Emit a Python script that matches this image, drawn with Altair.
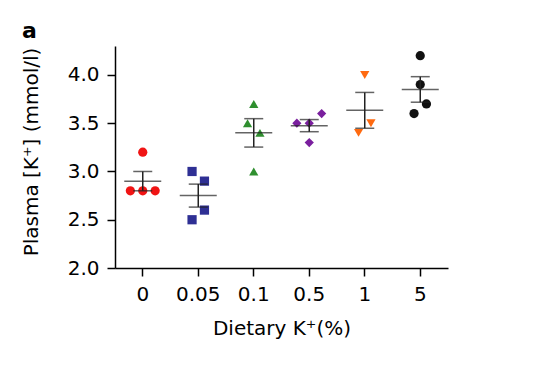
import altair as alt
import pandas as pd

groups = ["0", "0.05", "0.1", "0.5", "1", "5"]
colors = ["#f01414", "#2e2f94", "#2f8f2f", "#7a1f9e", "#ff6a10", "#111111"]
shapes = ["circle", "square", "triangle-up", "diamond", "triangle-down", "circle"]

values = {
    "0": [3.2, 2.8, 2.8, 2.8],
    "0.05": [3.0, 2.9, 2.6, 2.5],
    "0.1": [3.7, 3.5, 3.4, 3.0],
    "0.5": [3.5, 3.5, 3.6, 3.3],
    "1": [4.0, 3.5, 3.4],
    "5": [4.2, 3.9, 3.7, 3.6],
}
# horizontal spread slot of each point (scatter-dot layout)
slots = {
    "0": [0, -2, 0, 2],
    "0.05": [-1, 1, 1, -1],
    "0.1": [0, -1, 1, 0],
    "0.5": [-2, 0, 2, 0],
    "1": [0, 1, -1],
    "5": [0, 0, 1, -1],
}

rows = []
for g in groups:
    for v, s in zip(values[g], slots[g]):
        rows.append({"diet": g, "k": v, "slot": s})
df = pd.DataFrame(rows)

FONT = "DejaVu Sans"
FS = 20
STEP = 333 / len(groups)

x_enc = alt.X("diet:N", sort=groups,
              scale=alt.Scale(domain=groups, paddingInner=0, paddingOuter=0),
              axis=alt.Axis(title="Dietary K⁺(%)", labelAngle=0, labelFontSize=FS,
                            labelPadding=8, tickSize=8, titleFontSize=FS,
                            titleFontWeight="normal", titleBaseline="alphabetic",
                            titleY=66, titleAlign="center"))
y_scale = alt.Scale(domain=[2.0, 4.3], nice=False, zero=False)
y_axis = alt.Axis(title="Plasma [K⁺] (mmol/l)", values=[2.0, 2.5, 3.0, 3.5, 4.0],
                  format=".1f", labelFontSize=FS, labelPadding=8, tickSize=8,
                  titleFontSize=FS, titleFontWeight="normal",
                  titleBaseline="alphabetic", titleX=-78, titleY=105.5,
                  titleAlign="center", grid=False)

base = alt.Chart(df)

points = base.mark_point(filled=True, size=85, opacity=1).encode(
    x=x_enc,
    xOffset=alt.XOffset("slot:Q", scale=alt.Scale(domain=[-2, 2],
                                                  range=[STEP / 2 - 12.4, STEP / 2 + 12.4])),
    y=alt.Y("k:Q", scale=y_scale, axis=y_axis),
    color=alt.Color("diet:N", scale=alt.Scale(domain=groups, range=colors), legend=None),
    shape=alt.Shape("diet:N", scale=alt.Scale(domain=groups, range=shapes), legend=None),
)

stats = base.transform_aggregate(
    mean="mean(k)", se="stderr(k)", groupby=["diet"]
).transform_calculate(
    lo="datum.mean - datum.se", hi="datum.mean + datum.se"
)

ebar_color = "#222222"
mean_tick = stats.mark_tick(orient="horizontal", size=37, thickness=1.5, color=ebar_color).encode(
    x=alt.X("diet:N", sort=groups), y=alt.Y("mean:Q"))
cap_hi = stats.mark_tick(orient="horizontal", size=19, thickness=1.5, color=ebar_color).encode(
    x=alt.X("diet:N", sort=groups), y=alt.Y("hi:Q"))
cap_lo = stats.mark_tick(orient="horizontal", size=19, thickness=1.5, color=ebar_color).encode(
    x=alt.X("diet:N", sort=groups), y=alt.Y("lo:Q"))
stem = stats.mark_rule(strokeWidth=1.5, color=ebar_color).encode(
    x=alt.X("diet:N", sort=groups), y=alt.Y("lo:Q"), y2="hi:Q")

panel = alt.Chart(pd.DataFrame({"t": ["a"]})).mark_text(
    font="DejaVu Sans", fontSize=22, fontWeight="bold", align="left",
    baseline="alphabetic", color="#000"
).encode(x=alt.value(-93), y=alt.value(-8.5), text="t:N")

chart = alt.layer(points, stem, cap_hi, cap_lo, mean_tick, panel).properties(
    width=333, height=222,
    autosize=alt.AutoSizeParams(type="none"),
    padding={"left": 107, "top": 38, "right": 82, "bottom": 91},
).configure(
    background="white",
    view=alt.ViewConfig(stroke="transparent", strokeWidth=0),
    axis=alt.AxisConfig(
        labelFont=FONT, titleFont=FONT, labelColor="#000", titleColor="#000",
        domainColor="#000", tickColor="#000", domainWidth=1.5, tickWidth=1.5,
    ),
)

chart.save("out.html", embed_options={"renderer": "svg", "actions": False})
